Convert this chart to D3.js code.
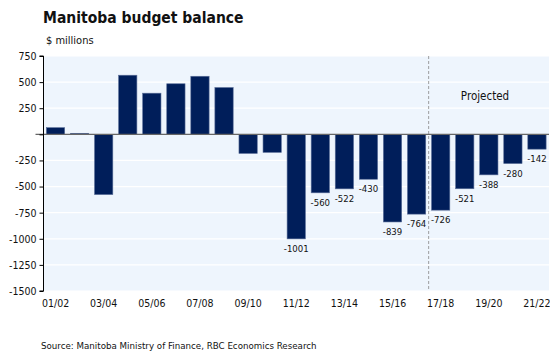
<!DOCTYPE html>
<html><head><meta charset="utf-8">
<script src="https://cdn.jsdelivr.net/npm/d3@7"></script>
<style>body{margin:0;background:#fff;} svg{display:block;font-family:"DejaVu Sans Condensed","DejaVu Sans",sans-serif;}</style>
</head><body>
<svg id="c" width="550" height="354"></svg>
<script>
const categories = ["01/02","02/03","03/04","04/05","05/06","06/07","07/08","08/09","09/10","10/11","11/12","12/13","13/14","14/15","15/16","16/17","17/18","18/19","19/20","20/21","21/22"];
const values = [64, 10, -577, 566, 394, 484, 556, 448, -183, -173, -1001, -560, -522, -430, -839, -764, -726, -521, -388, -280, -142];
const labelled = [false,false,false,false,false,false,false,false,false,false,true,true,true,true,true,true,true,true,true,true,true];
const xTickLabels = ["01/02","03/04","05/06","07/08","09/10","11/12","13/14","15/16","17/18","19/20","21/22"];
const yTicks = [750,500,250,0,-250,-500,-750,-1000,-1250,-1500];
const yTickLabels = ["750","500","250","","-250","-500","-750","-1000","-1250","-1500"];

const FONT = "'DejaVu Sans Condensed','DejaVu Sans',sans-serif";
const svg = d3.select("#c");
const L = 43.5, R = 549, T = 56, B = 291;
const x = d3.scaleBand().domain(categories).range([L, R]).paddingInner(0.24).paddingOuter(0.12);
const y = d3.scaleLinear().domain([-1500, 750]).range([B, T]);

svg.append("rect").attr("x", L).attr("y", T).attr("width", R - L).attr("height", B - T).attr("fill", "#EEF5FD");
svg.append("g").selectAll("line").data(yTicks.filter(d => d !== 0)).join("line")
  .attr("x1", L).attr("x2", R).attr("y1", d => y(d)).attr("y2", d => y(d))
  .attr("stroke", "#fff").attr("stroke-width", 1.2);

svg.append("g").selectAll("rect").data(values).join("rect")
  .attr("x", (d, i) => x(categories[i]))
  .attr("width", x.bandwidth())
  .attr("y", d => y(Math.max(0, d)))
  .attr("height", d => Math.abs(y(d) - y(0)))
  .attr("fill", "#001E5A")
  .attr("stroke", "#5A6E98").attr("stroke-width", 0.6);

// zero line
svg.append("line").attr("x1", L - 8).attr("x2", R).attr("y1", y(0)).attr("y2", y(0))
  .attr("stroke", "#666").attr("stroke-width", 1.3);

// projected divider
const px = (x("16/17") + x.bandwidth() + x("17/18")) / 2;
svg.append("line").attr("x1", px).attr("x2", px).attr("y1", T).attr("y2", B)
  .attr("stroke", "#888").attr("stroke-width", 0.8).attr("stroke-dasharray", "3,2");
svg.append("text").attr("x", 485).attr("y", 100).attr("text-anchor", "middle")
  .attr("font-size", 11.5).attr("fill", "#111").text("Projected");

// y axis
const yAxis = d3.axisLeft(y).tickValues(yTicks).tickSize(4).tickFormat((d, i) => yTickLabels[i]);
const gy = svg.append("g").attr("transform", `translate(${L},0)`).call(yAxis);
gy.select(".domain").attr("stroke", "#000").attr("d", `M-4,${T}H0V${B}H-4`);
gy.selectAll(".tick line").attr("stroke", "#000");
gy.selectAll(".tick text").attr("font-size", 10.5).attr("fill", "#111").attr("font-family", FONT).attr("x", -7);

// x axis labels
const xAxis = d3.axisBottom(x).tickValues(xTickLabels).tickSize(0).tickPadding(9);
const gx = svg.append("g").attr("transform", `translate(0,${B})`).call(xAxis);
gx.select(".domain").remove();
gx.selectAll(".tick text").attr("font-size", 10.5).attr("fill", "#111").attr("font-family", FONT);

// value labels
svg.append("g").selectAll("text").data(values.map((v, i) => ({v, i})).filter(d => labelled[d.i])).join("text")
  .attr("x", d => x(categories[d.i]) + x.bandwidth() / 2)
  .attr("y", d => y(d.v) + 13)
  .attr("text-anchor", "middle").attr("font-size", 9.5).attr("fill", "#111")
  .text(d => d.v);

svg.append("text").attr("x", 43).attr("y", 23).attr("font-size", 15.5).attr("font-weight", "bold").attr("fill", "#111").text("Manitoba budget balance");
svg.append("text").attr("x", 46).attr("y", 44).attr("font-size", 11).attr("fill", "#111").text("$ millions");
svg.append("text").attr("x", 41).attr("y", 349).attr("font-size", 8.7).attr("font-family", "'DejaVu Sans',sans-serif").attr("fill", "#111").text("Source:  Manitoba Ministry of Finance, RBC Economics Research");
</script>
</body></html>
